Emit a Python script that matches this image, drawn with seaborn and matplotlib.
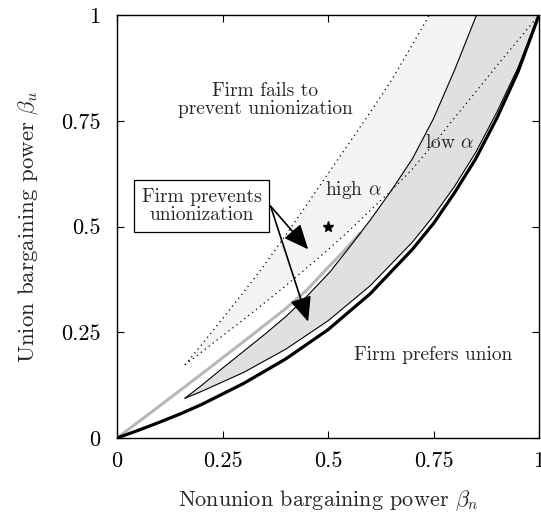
import numpy as np
import pandas as pd
import matplotlib
matplotlib.use("Agg")
import matplotlib.pyplot as plt
import seaborn as sns

# ---- data ----
# Thick black boundary: firm indifferent (prefers union below)
black_x = [0.0, 0.05, 0.1, 0.15, 0.2, 0.3, 0.4, 0.5, 0.6, 0.7, 0.75, 0.8, 0.85, 0.9, 0.95, 1.0]
black_y = [0.0, 0.018, 0.037, 0.057, 0.079, 0.129, 0.187, 0.256, 0.341, 0.446, 0.507, 0.58, 0.66, 0.756, 0.865, 1.0]

# Low-alpha region (dark), upper boundary C and lower boundary D
low_up_x = [0.161, 0.2, 0.25, 0.3, 0.35, 0.4, 0.45, 0.505, 0.55, 0.6, 0.65, 0.7, 0.75, 0.8, 0.852]
low_up_y = [0.094, 0.124, 0.165, 0.205, 0.245, 0.287, 0.335, 0.393, 0.45, 0.515, 0.585, 0.66, 0.755, 0.87, 1.0]
low_lo_x = [0.161, 0.2, 0.3, 0.4, 0.5, 0.6, 0.7, 0.75, 0.8, 0.85, 0.9, 0.95, 1.0]
low_lo_y = [0.094, 0.11, 0.155, 0.21, 0.277, 0.36, 0.463, 0.525, 0.595, 0.675, 0.77, 0.875, 1.0]

# High-alpha region (light), dotted upper boundary A and dotted lower boundary B
high_up_x = [0.161, 0.2, 0.25, 0.3, 0.339, 0.4, 0.45, 0.5, 0.55, 0.6, 0.65, 0.7, 0.74]
high_up_y = [0.173, 0.22, 0.282, 0.345, 0.395, 0.48, 0.552, 0.625, 0.697, 0.77, 0.845, 0.93, 1.0]
high_lo_x = [0.161, 0.2, 0.3, 0.4, 0.5, 0.55, 0.6, 0.65, 0.7, 0.75, 0.8, 0.85, 0.9, 0.95, 1.0]
high_lo_y = [0.173, 0.203, 0.28, 0.36, 0.445, 0.49, 0.538, 0.585, 0.636, 0.695, 0.757, 0.818, 0.88, 0.94, 1.0]

# Gray limit line
gray_x = [0.0, 0.1, 0.2, 0.3, 0.4, 0.45, 0.5, 0.55, 0.576]
gray_y = [0.0, 0.075, 0.151, 0.228, 0.306, 0.35, 0.403, 0.455, 0.484]

star_x = [0.5]
star_y = [0.5]

tick_vals = [0, 0.25, 0.5, 0.75, 1]
tick_labels = ["0", "0.25", "0.5", "0.75", "1"]

# ---- style ----
sns.set_theme(style="ticks")
plt.rcParams["font.family"] = ["cmr10", "DejaVu Serif"]
plt.rcParams["mathtext.fontset"] = "cm"
plt.rcParams["axes.formatter.use_mathtext"] = True

fig = plt.figure(figsize=(5.41, 5.12), dpi=100)
ax = fig.add_axes([117/541, 1 - 438/512, 422/541, 423/512])

# fills
ax.fill(np.concatenate([high_up_x, high_lo_x[::-1]]),
        np.concatenate([high_up_y, high_lo_y[::-1]]),
        color="#f4f4f4", lw=0, zorder=1)
ax.fill(np.concatenate([low_up_x, low_lo_x[::-1]]),
        np.concatenate([low_up_y, low_lo_y[::-1]]),
        color="#e0e0e0", lw=0, zorder=2)

def line(x, y, **kw):
    df = pd.DataFrame({"x": x, "y": y})
    sns.lineplot(data=df, x="x", y="y", ax=ax, sort=False, estimator=None, **kw)

line(high_up_x, high_up_y, color="black", lw=0.9, linestyle=(0, (1, 3)), zorder=3)
line(high_lo_x, high_lo_y, color="black", lw=0.9, linestyle=(0, (1, 3)), zorder=3)
line(gray_x, gray_y, color="#b8b8b8", lw=2.2, zorder=4)
line(low_up_x, low_up_y, color="black", lw=0.8, zorder=5)
line(low_lo_x, low_lo_y, color="black", lw=0.8, zorder=5)
line(black_x, black_y, color="black", lw=2.3, zorder=6)

ax.plot(star_x, star_y, marker="*", color="black", ms=8, lw=0, zorder=7)

fs = 14
ax.text(0.351, 0.80, "Firm fails to\nprevent unionization", ha="center", va="center",
        fontsize=fs, linespacing=1.0)
ax.text(0.789, 0.697, r"low $\alpha$", ha="center", va="center", fontsize=fs)
ax.text(0.56, 0.586, r"high $\alpha$", ha="center", va="center", fontsize=fs)
ax.text(0.75, 0.196, "Firm prefers union", ha="center", va="center", fontsize=fs)

ax.text(0.201, 0.549, "Firm prevents\nunionization", ha="center", va="center",
        fontsize=fs, linespacing=1.0, zorder=9,
        bbox=dict(boxstyle="square,pad=0.4", fc="white", ec="black", lw=0.9))
for tip in [(0.453, 0.446), (0.453, 0.275)]:
    ax.annotate("", xy=tip, xytext=(0.364, 0.548),
                arrowprops=dict(arrowstyle="-|>,head_length=0.8,head_width=0.35",
                                color="black", lw=1.2, shrinkA=0, shrinkB=0,
                                mutation_scale=19), zorder=8)

ax.set_xlim(0, 1)
ax.set_ylim(0, 1)
ax.set_xticks(tick_vals)
ax.set_xticklabels(tick_labels)
ax.set_yticks(tick_vals)
ax.set_yticklabels(tick_labels)
ax.tick_params(axis="both", direction="in", length=5, width=0.8, top=True, right=True,
               labelsize=16, colors="black")
ax.tick_params(axis="x", pad=10)
ax.tick_params(axis="y", pad=12)
for s in ax.spines.values():
    s.set_visible(True)
    s.set_linewidth(1.0)
    s.set_color("black")
ax.set_xlabel(r"Nonunion bargaining power $\beta_n$", fontsize=16, labelpad=12)
ax.set_ylabel(r"Union bargaining power $\beta_u$", fontsize=16.5, labelpad=14)

fig.savefig("out.png", dpi=100)
